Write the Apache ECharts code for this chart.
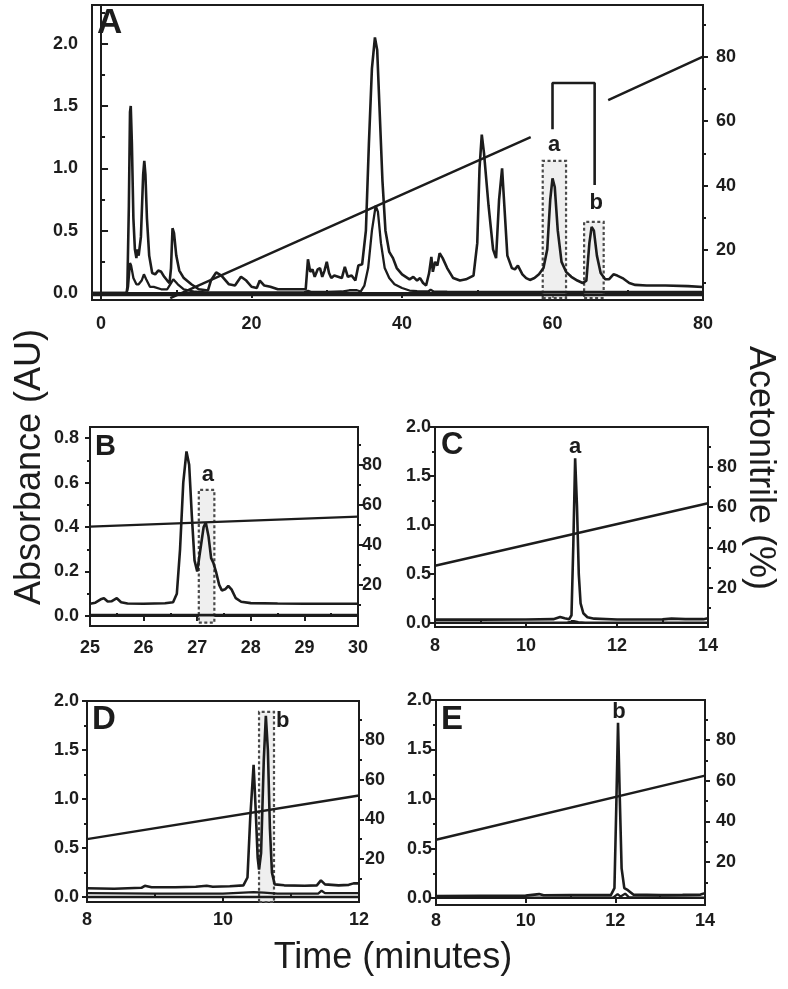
<!DOCTYPE html>
<html><head><meta charset="utf-8">
<script src="https://cdn.jsdelivr.net/npm/echarts@6/dist/echarts.min.js"></script>
<style>html,body{margin:0;padding:0;background:#fff}#c{width:788px;height:989px}</style>
</head><body><div id="c"></div>
<script>
// ---------------- DATA ----------------
// Panel A: [time (min), absorbance (AU)]
const aUpper = [[-1.2,0],[3.4,0],[3.5,0.05],[3.7,0.7],[3.85,1.45],[3.95,1.5],[4.1,1.2],[4.3,0.6],[4.5,0.35],[4.7,0.28],[4.8,0.35],[5.0,0.3],[5.3,0.45],[5.6,0.95],[5.75,1.06],[5.9,0.95],[6.1,0.6],[6.4,0.3],[6.8,0.16],[7.2,0.15],[7.6,0.18],[8.0,0.17],[8.4,0.13],[8.8,0.1],[9.1,0.08],[9.3,0.2],[9.5,0.52],[9.7,0.48],[10.0,0.3],[10.4,0.18],[11,0.12],[12,0.07],[13,0.03],[14.2,0.02],[14.6,0.1],[15.3,0.165],[16,0.14],[17,0.07],[17.8,0.06],[18.6,0.13],[19.3,0.1],[20,0.05],[20.7,0.04],[21.1,0.1],[21.7,0.06],[22.5,0.05],[23.5,0.03],[25,0.03],[27.2,0.03],[27.5,0.27],[27.8,0.17],[28.1,0.19],[28.4,0.13],[28.8,0.19],[29.1,0.2],[29.4,0.13],[29.7,0.18],[30,0.25],[30.3,0.16],[30.6,0.12],[31,0.14],[31.5,0.13],[32,0.12],[32.4,0.21],[32.8,0.13],[33.3,0.14],[33.8,0.1],[34.2,0.22],[34.7,0.23],[35.2,0.5],[35.6,1.2],[36.0,1.8],[36.4,2.05],[36.7,1.95],[37.0,1.5],[37.4,0.9],[37.8,0.5],[38.3,0.33],[38.8,0.28],[39.3,0.2],[40,0.15],[40.5,0.13],[41,0.11],[41.5,0.13],[42,0.1],[42.4,0.12],[42.8,0.08],[43.2,0.06],[43.6,0.16],[43.9,0.29],[44.1,0.17],[44.4,0.25],[44.7,0.22],[45.0,0.32],[45.4,0.28],[46,0.2],[46.8,0.12],[47.7,0.1],[48.5,0.11],[49.5,0.14],[50,0.4],[50.3,1.0],[50.6,1.27],[50.9,1.12],[51.5,0.7],[52.1,0.35],[52.5,0.28],[52.9,0.75],[53.3,1.0],[53.6,0.7],[54.0,0.3],[54.6,0.2],[55,0.19],[55.4,0.22],[56,0.15],[56.5,0.12],[57,0.105],[57.6,0.12],[58.2,0.15],[58.8,0.2],[59.3,0.35],[59.7,0.75],[60.0,0.92],[60.3,0.85],[60.7,0.5],[61.2,0.25],[61.8,0.17],[62.5,0.13],[63.3,0.1],[64,0.08],[64.5,0.1],[64.9,0.4],[65.2,0.53],[65.5,0.5],[65.9,0.3],[66.4,0.16],[67,0.11],[67.5,0.11],[68.1,0.15],[68.6,0.14],[69.3,0.12],[70.2,0.08],[71,0.065],[72.5,0.06],[75,0.06],[78,0.055],[80,0.048]];
const aLower = [[-1.2,0],[3.4,0],[3.6,0.05],[3.85,0.24],[4.0,0.22],[4.3,0.12],[4.7,0.07],[5.0,0.07],[5.4,0.1],[5.7,0.15],[6.0,0.11],[6.5,0.05],[7,0.05],[8,0.03],[8.8,0.03],[9.3,0.08],[9.6,0.11],[10.2,0.07],[11,0.03],[12.5,0.01],[14,0.005],[20,0.005],[27,0.005],[27.5,0.018],[28,0.008],[30,0.008],[32,0.012],[33,0.022],[34,0.022],[34.5,0.012],[35,0.06],[35.5,0.2],[36,0.5],[36.5,0.7],[36.8,0.65],[37.2,0.4],[37.7,0.2],[38.3,0.12],[39,0.07],[40,0.04],[41,0.02],[42,0.015],[43.5,0.012],[43.8,0.026],[44.2,0.012],[46,0.01],[50,0.009],[60,0.008],[70,0.008],[80,0.008]];
const aGradient = [[9.2,5.1],[57.1,55.0],null,[67.4,66.5],[80,80]];   // acetonitrile %
const aBracket = [[60,57.5],[60,71.8],[65.6,71.8],[65.6,40.2]];        // acetonitrile %
const aBoxes = [[58.7,-0.04,61.8,1.06],[64.2,-0.04,66.8,0.57]];
const aLabels = [['a',60.2,1.19],['b',65.8,0.72]];

// Panel B
const bUpper = [[25,0.055],[25.1,0.06],[25.2,0.075],[25.26,0.08],[25.33,0.065],[25.4,0.066],[25.5,0.08],[25.58,0.062],[25.7,0.056],[26,0.055],[26.4,0.057],[26.55,0.062],[26.62,0.1],[26.68,0.3],[26.74,0.6],[26.8,0.74],[26.85,0.68],[26.9,0.45],[26.95,0.25],[27.0,0.2],[27.06,0.3],[27.12,0.4],[27.16,0.42],[27.21,0.36],[27.26,0.26],[27.3,0.24],[27.35,0.2],[27.41,0.14],[27.46,0.115],[27.52,0.12],[27.58,0.135],[27.64,0.12],[27.72,0.08],[27.82,0.064],[28,0.058],[28.5,0.056],[29,0.055],[30,0.055]];
const bLower = [[25,0.005],[30,0.005]];
const bGradient = [[25,49.2],[30,54.2]];
const bBoxes = [[27.03,-0.03,27.32,0.567]];
const bLabels = [['a',27.2,0.635]];

// Panel C
const cUpper = [[8,0.035],[9,0.035],[10,0.036],[10.6,0.04],[10.75,0.062],[10.85,0.05],[10.95,0.04],[11.0,0.08],[11.04,0.8],[11.08,1.68],[11.12,1.2],[11.16,0.5],[11.2,0.2],[11.26,0.1],[11.35,0.06],[11.5,0.045],[12,0.036],[13,0.038],[13.2,0.045],[13.5,0.04],[13.9,0.04],[14,0.05]];
const cLower = [[8,0.005],[10.9,0.005],[11.05,0.02],[11.15,0.01],[11.3,0.005],[14,0.005]];
const cGradient = [[8,31],[14,62]];
const cLabels = [['a',11.08,1.8]];

// Panel D
const dUpper = [[8,0.09],[8.4,0.085],[8.8,0.095],[8.85,0.115],[8.95,0.1],[9.3,0.1],[9.6,0.105],[9.76,0.115],[9.85,0.105],[10.1,0.11],[10.3,0.12],[10.36,0.2],[10.4,0.8],[10.45,1.35],[10.48,0.9],[10.51,0.4],[10.53,0.28],[10.56,0.45],[10.6,1.4],[10.63,1.85],[10.66,1.5],[10.69,0.7],[10.72,0.25],[10.76,0.13],[10.9,0.12],[11.2,0.115],[11.38,0.12],[11.44,0.17],[11.5,0.13],[11.7,0.12],[11.85,0.125],[11.92,0.14],[12,0.14]];
const dLower = [[8,0.04],[9,0.035],[10,0.035],[10.45,0.05],[10.6,0.045],[10.8,0.035],[11.4,0.035],[11.45,0.065],[11.5,0.04],[12,0.04]];
const dGradient = [[8,30],[12,52]];
const dBoxes = [[10.53,-0.05,10.75,1.89]];
const dLabels = [['b',10.88,1.8]];

// Panel E
const eUpper = [[8,0.02],[9,0.022],[10,0.025],[10.3,0.04],[10.4,0.028],[11,0.03],[11.9,0.03],[11.98,0.1],[12.02,0.9],[12.06,1.77],[12.1,1.0],[12.14,0.3],[12.2,0.1],[12.28,0.08],[12.4,0.035],[13,0.03],[13.5,0.032],[13.9,0.035],[14,0.05]];
const eLower = [[8,0.005],[11.95,0.005],[12.05,0.04],[12.12,0.015],[12.22,0.045],[12.3,0.01],[14,0.005]];
const eGradient = [[8,31],[14,62.5]];
const eLabels = [['b',12.08,1.88]];

// Tick values
const ticksAx = [0,20,40,60,80], ticksAxMinor = [10,30,50,70];
const ticksBx = [25,26,27,28,29,30], ticksBxMinor = [25.5,26.5,27.5,28.5,29.5];
const ticksCEx = [8,10,12,14], ticksCExMinor = [9,11,13];
const ticksDx = [8,10,12], ticksDxMinor = [9,11];
const ticksAbs2 = [0,0.5,1,1.5,2], ticksAbs2Minor = [0.25,0.75,1.25,1.75];
const ticksAbsA = [0,0.5,1,1.5,2], ticksAbsAMinor = [0.25,0.75,1.25,1.75,2.25];
const ticksAbsB = [0,0.2,0.4,0.6,0.8], ticksAbsBMinor = [0.1,0.3,0.5,0.7];
const ticksAcn = [20,40,60,80], ticksAcnMinor = [10,30,50,70,90];

// ---------------- CHART ----------------
const FONT = "'Liberation Sans', Arial, Helvetica, sans-serif";
const INK = '#1c1c1c';
const grids = [], xAxes = [], yAxes = [], series = [], graphics = [];

function axisCommon(extra){
  return Object.assign({type:'value', splitLine:{show:false}, axisLine:{show:true, lineStyle:{color:INK, width:2}}}, extra);
}
function tickLabel(vals, fmt, margin){
  return {customValues: vals, color: INK, fontFamily: FONT, fontWeight: 'bold', fontSize: 18, margin: margin, formatter: fmt};
}

function addPanel(p){
  const g = grids.length;
  grids.push({left:p.l, top:p.t, width:p.r-p.l, height:p.b-p.t, show:true, borderColor:INK, borderWidth:2, backgroundColor:'transparent'});
  const xi = xAxes.length;
  xAxes.push(axisCommon({gridIndex:g, min:p.x[0], max:p.x[1],
    axisTick:{customValues:p.xMaj, length:5, lineStyle:{color:INK,width:2}},
    axisLabel:tickLabel(p.xMaj, v => String(v), p.mx)}));
  xAxes.push(axisCommon({gridIndex:g, min:p.x[0], max:p.x[1],
    axisTick:{customValues:p.xMin, length:3, lineStyle:{color:INK,width:2}},
    axisLabel:{show:false}}));
  const yl = yAxes.length;
  const lin = !!p.leftInside, loff = p.leftOffset || 0;
  yAxes.push(axisCommon({gridIndex:g, position:'left', offset:loff, min:p.yL[0], max:p.yL[1],
    axisTick:{customValues:p.yLMaj, length:lin?7:5, inside:lin, lineStyle:{color:INK,width:2}},
    axisLabel:tickLabel(p.yLMaj, v => v.toFixed(1), p.ml)}));
  yAxes.push(axisCommon({gridIndex:g, position:'left', offset:loff, min:p.yL[0], max:p.yL[1],
    axisTick:{customValues:p.yLMin, length:lin?4:3, inside:lin, lineStyle:{color:INK,width:2}},
    axisLabel:{show:false}}));
  const yr = yAxes.length;
  yAxes.push(axisCommon({gridIndex:g, position:'right', min:p.yR[0], max:p.yR[1],
    axisTick:{customValues:ticksAcn, length:5, lineStyle:{color:INK,width:2}},
    axisLabel:tickLabel(ticksAcn, v => String(v), p.mr)}));
  yAxes.push(axisCommon({gridIndex:g, position:'right', min:p.yR[0], max:p.yR[1],
    axisTick:{customValues:ticksAcnMinor, length:3, lineStyle:{color:INK,width:2}},
    axisLabel:{show:false}}));

  const lineBase = {type:'line', xAxisIndex:xi, symbol:'none', showSymbol:false, silent:true, animation:false, connectNulls:false};
  const boxes = (p.boxes||[]).map(b => [{coord:[b[0],b[1]]},{coord:[b[2],b[3]]}]);
  series.push(Object.assign({}, lineBase, {yAxisIndex:yl, data:p.lower, z:3,
    lineStyle:{color:INK, width:2.3},
    markLine: p.zero!=null ? {silent:true, symbol:'none', label:{show:false}, lineStyle:{color:INK, width:2.3, type:'solid'}, data:[{yAxis:p.zero}], animation:false} : undefined}));
  series.push(Object.assign({}, lineBase, {yAxisIndex:yl, data:p.upper, z:4,
    lineStyle:{color:INK, width:2.6},
    markArea: boxes.length ? {silent:true, itemStyle:{color:'rgba(225,225,225,0.55)', borderColor:'#4a4a4a', borderWidth:2.2, borderType:[3,2.5]}, data:boxes, animation:false} : undefined}));
  series.push(Object.assign({}, lineBase, {yAxisIndex:yr, data:p.grad, z:5, lineStyle:{color:INK, width:2.4}}));
  if (p.bracket) series.push(Object.assign({}, lineBase, {yAxisIndex:yr, data:p.bracket, z:5, lineStyle:{color:INK, width:2.6}}));
  series.push({type:'scatter', xAxisIndex:xi, yAxisIndex:yl, symbol:'circle', symbolSize:0, silent:true, animation:false, z:6,
    itemStyle:{color:INK, opacity:1},
    data:(p.labels||[]).map(l => ({name:l[0], value:[l[1],l[2]]})),
    label:{show:true, position:'inside', formatter: q => q.name, color:INK, opacity:1, fontFamily:FONT, fontWeight:'bold', fontSize:22}});
  graphics.push({type:'text', x:p.letter[1], y:p.letter[2], silent:true,
    style:{text:p.letter[0], fill:INK, font:'bold '+p.letter[3]+'px '+FONT, textVerticalAlign:'top', verticalAlign:'top'}});
}

addPanel({l:92, t:5, r:703, b:300, x:[-1.2,80], yL:[-0.056,2.31], yR:[4.5,96], leftOffset:9, leftInside:true,
  mx:15, ml:5, mr:13,
  xMaj:ticksAx, xMin:ticksAxMinor, yLMaj:ticksAbsA, yLMin:ticksAbsAMinor,
  upper:aUpper, lower:aLower, grad:aGradient, bracket:aBracket, boxes:aBoxes, labels:aLabels, zero:-0.012,
  letter:['A',97,6,35]});
addPanel({l:90, t:427, r:358, b:626, x:[25,30], yL:[-0.045,0.85], yR:[-0.5,99],
  mx:13, ml:11, mr:4,
  xMaj:ticksBx, xMin:ticksBxMinor, yLMaj:ticksAbsB, yLMin:ticksAbsBMinor,
  upper:bUpper, lower:bLower, grad:bGradient, boxes:bBoxes, labels:bLabels,
  letter:['B',95,432,29]});
addPanel({l:435, t:427, r:708, b:627, x:[8,14], yL:[-0.04,2.0], yR:[0.6,99.8],
  mx:10, ml:4, mr:9,
  xMaj:ticksCEx, xMin:ticksCExMinor, yLMaj:ticksAbs2, yLMin:ticksAbs2Minor,
  upper:cUpper, lower:cLower, grad:cGradient, labels:cLabels,
  letter:['C',441,430,31]});
addPanel({l:87, t:701, r:359, b:902, x:[8,12], yL:[-0.05,2.0], yR:[-1.7,99.7],
  mx:9, ml:8, mr:6,
  xMaj:ticksDx, xMin:ticksDxMinor, yLMaj:ticksAbs2, yLMin:ticksAbs2Minor,
  upper:dUpper, lower:dLower, grad:dGradient, boxes:dBoxes, labels:dLabels, zero:0,
  letter:['D',92,703,33]});
addPanel({l:436, t:700, r:705, b:905, x:[8,14], yL:[-0.07,2.0], yR:[-1.1,99.7],
  mx:7, ml:4, mr:11,
  xMaj:ticksCEx, xMin:ticksCExMinor, yLMaj:ticksAbs2, yLMin:ticksAbs2Minor,
  upper:eUpper, lower:eLower, grad:eGradient, labels:eLabels,
  letter:['E',441,703,33]});

// Axis titles
graphics.push({type:'text', x:30, y:467, rotation:Math.PI/2, silent:true,
  style:{text:'Absorbance (AU)', fill:INK, font:'36px '+FONT, textAlign:'center', align:'center', textVerticalAlign:'middle', verticalAlign:'middle'}});
graphics.push({type:'text', x:760, y:468, rotation:-Math.PI/2, silent:true,
  style:{text:'Acetonitrile (%)', fill:INK, font:'36px '+FONT, textAlign:'center', align:'center', textVerticalAlign:'middle', verticalAlign:'middle'}});
graphics.push({type:'text', x:393, y:958, silent:true,
  style:{text:'Time (minutes)', fill:INK, font:'36px '+FONT, textAlign:'center', align:'center', textVerticalAlign:'middle', verticalAlign:'middle'}});

const chart = echarts.init(document.getElementById('c'), null, {renderer:'canvas'});
chart.setOption({animation:false, backgroundColor:'#fff', grid:grids, xAxis:xAxes, yAxis:yAxes, series:series, graphic:graphics});
</script>
</body></html>
